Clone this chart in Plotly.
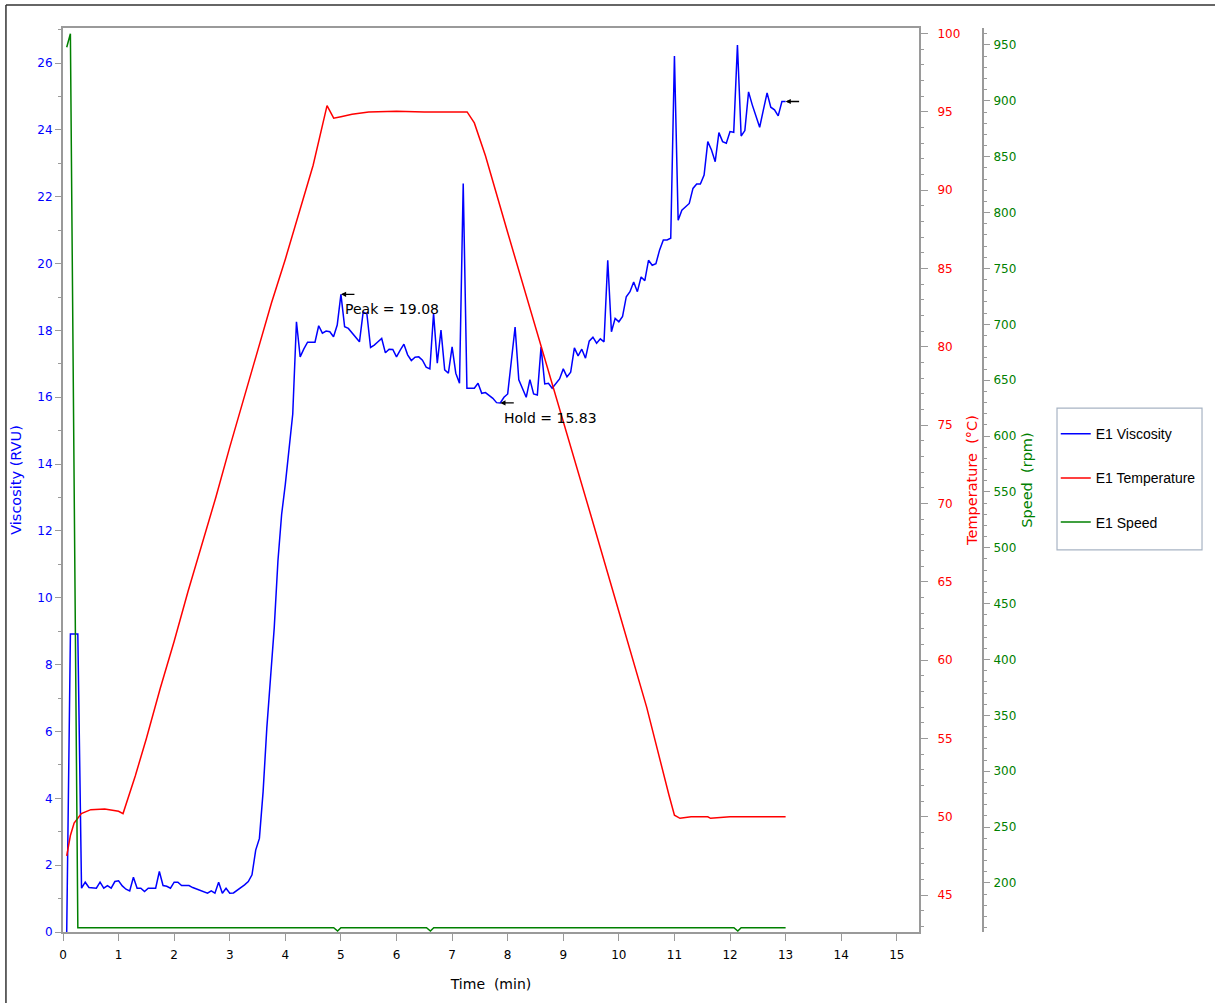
import plotly.graph_objects as go

# Rapid Visco Analyser run E1: samples every 4 s (first sample at 4 s)
viscosity = [
    0.00, 8.92, 8.92, 8.92, 1.31, 1.49, 1.33, 1.31, 1.31, 1.49,
    1.31, 1.39, 1.31, 1.51, 1.53, 1.38, 1.28, 1.23, 1.64, 1.31,
    1.31, 1.21, 1.31, 1.31, 1.31, 1.81, 1.39, 1.37, 1.31, 1.49,
    1.49, 1.39, 1.39, 1.39, 1.33, 1.29, 1.23, 1.20, 1.16, 1.23,
    1.16, 1.49, 1.16, 1.31, 1.16, 1.17, 1.25, 1.31, 1.41, 1.51,
    1.71, 2.45, 2.80, 4.20, 6.10, 7.60, 9.10, 11.10, 12.50, 13.40,
    14.50, 15.50, 18.26, 17.21, 17.45, 17.65, 17.65, 17.65, 18.14, 17.92,
    17.98, 17.96, 17.81, 18.16, 19.08, 18.11, 18.06, 17.93, 17.80, 17.66,
    18.55, 18.50, 17.49, 17.56, 17.66, 17.76, 17.33, 17.44, 17.43, 17.21,
    17.41, 17.59, 17.27, 17.10, 17.20, 17.21, 17.11, 16.90, 16.85, 18.51,
    17.02, 18.01, 16.82, 16.72, 17.51, 16.72, 16.42, 22.40, 16.27, 16.27,
    16.27, 16.42, 16.12, 16.14, 16.05, 15.97, 15.84, 15.83, 16.00, 16.10,
    17.10, 18.10, 16.52, 16.25, 16.00, 16.53, 16.10, 16.07, 17.50, 16.40,
    16.42, 16.27, 16.40, 16.55, 16.85, 16.61, 16.75, 17.48, 17.24, 17.44,
    17.17, 17.68, 17.80, 17.62, 17.75, 17.66, 20.10, 17.96, 18.36, 18.26,
    18.42, 19.01, 19.16, 19.45, 19.16, 19.60, 19.49, 20.10, 19.95, 20.00,
    20.41, 20.71, 20.71, 20.76, 26.21, 21.30, 21.60, 21.70, 21.80, 22.25,
    22.38, 22.38, 22.65, 23.65, 23.40, 23.05, 23.92, 23.65, 23.60, 23.95,
    23.93, 26.54, 23.82, 23.98, 25.14, 24.75, 24.40, 24.08, 24.60, 25.11,
    24.68, 24.60, 24.42, 24.85, 24.85,
]
visc_time = [i * 4 / 60 for i in range(1, len(viscosity) + 1)]

temp_time = [0.067, 0.133, 0.2, 0.33, 0.5, 0.75, 1.0, 1.08, 1.3, 1.5,
             1.75, 2.0, 2.25, 2.5, 2.75, 3.0, 3.25, 3.5, 3.75, 4.0,
             4.25, 4.5, 4.75, 4.87, 5.0, 5.2, 5.5, 6.0, 6.5, 7.0,
             7.27, 7.4, 7.6, 8.0, 8.5, 9.0, 9.5, 10.0, 10.5, 10.9,
             11.0, 11.1, 11.3, 11.6, 11.65, 12.0, 12.5, 13.0]
temperature = [47.5, 48.8, 49.6, 50.2, 50.45, 50.5, 50.35, 50.2, 52.6, 55.0,
               58.2, 61.2, 64.4, 67.4, 70.4, 73.6, 76.7, 79.8, 82.8, 85.6,
               88.6, 91.6, 95.4, 94.6, 94.7, 94.85, 95.0, 95.05, 95.0, 95.0,
               95.0, 94.3, 92.2, 87.3, 81.3, 75.2, 69.2, 63.1, 57.0, 51.4,
               50.1, 49.9, 50.0, 50.0, 49.9, 50.0, 50.0, 50.0]

speed_time = [0.067, 0.133, 0.267, 4.87, 4.94, 5.0, 6.54, 6.61, 6.67,
              12.07, 12.14, 12.2, 13.0]
speed = [948, 960, 160, 160, 157, 160, 160, 157, 160, 160, 157, 160, 160]

peak_time, peak_value = 5.0, 19.08
hold_time, hold_value = visc_time[117], 15.83
final_time, final_value = visc_time[-1], viscosity[-1]

x_ticks = list(range(0, 16))

BLUE = "#0000ff"
RED = "#ff0000"
GREEN = "#008000"
AXIS = "#9a9a9a"
FONT = "DejaVu Sans, Verdana, sans-serif"
NARROW = "Liberation Sans Narrow, Arial Narrow, Liberation Sans, sans-serif"

fig = go.Figure()
fig.add_trace(go.Scatter(x=visc_time, y=viscosity, name="E1 Viscosity",
                         mode="lines", line=dict(color=BLUE, width=1.5),
                         legendgroup="v", yaxis="y"))
fig.add_trace(go.Scatter(x=temp_time, y=temperature, name="E1 Temperature",
                         mode="lines", line=dict(color=RED, width=1.5),
                         legendgroup="t", yaxis="y2"))
fig.add_trace(go.Scatter(x=speed_time, y=speed, name="E1 Speed",
                         mode="lines", line=dict(color=GREEN, width=1.5),
                         legendgroup="s", yaxis="y3"))

common = dict(showgrid=False, zeroline=False, showline=True, linecolor=AXIS,
              linewidth=2, ticks="outside", tickcolor=AXIS)

fig.update_layout(
    width=1215, height=1003,
    margin=dict(l=63, r=20, t=28, b=71, autoexpand=False),
    paper_bgcolor="white", plot_bgcolor="white",
    font=dict(family=FONT, size=12, color="black"),
    xaxis=dict(domain=[0, 0.7562], range=[0, 15.4], tickvals=x_ticks,
               mirror=True, ticklen=7, ticklabelstandoff=4,
               tickfont=dict(size=12, color="black"),
               title=dict(text="Time\u00a0\u00a0(min)",
                          font=dict(size=14, color="black"),
                          standoff=18),
               **common),
    yaxis=dict(range=[0, 27.05], dtick=2, tick0=0, ticklen=6,
               tickfont=dict(size=12, color=BLUE),
               minor=dict(dtick=1, ticks="outside", ticklen=3, tickcolor=AXIS),
               title=dict(text="Viscosity (RVU)",
                          font=dict(size=14.5, color=BLUE), standoff=12),
               **common),
    yaxis2=dict(overlaying="y", side="right", anchor="x",
                range=[42.64, 100.36], dtick=5, tick0=0, ticklen=7,
                ticklabelstandoff=7,
                tickfont=dict(size=12, color=RED),
                minor=dict(dtick=1, ticks="outside", ticklen=3, tickcolor=AXIS),
                title=dict(text="Temperature\u00a0\u00a0(\u00b0C)",
                           font=dict(size=14.5, color=RED), standoff=8),
                **common),
    yaxis3=dict(overlaying="y", side="right", anchor="free", position=0.8127,
                range=[156.1, 965.2], dtick=50, tick0=0, ticklen=6,
                ticklabelstandoff=1,
                tickfont=dict(size=12, color=GREEN),
                minor=dict(dtick=10, ticks="outside", ticklen=3, tickcolor=AXIS),
                title=dict(text="Speed\u00a0\u00a0(rpm)",
                           font=dict(size=14.5, color=GREEN), standoff=6),
                **common),
    legend=dict(x=0.877, y=0.5685, xanchor="left", yanchor="top",
                borderwidth=0, bgcolor="rgba(0,0,0,0)",
                font=dict(family=NARROW, size=14, color="black"),
                tracegroupgap=23, itemwidth=30),
    showlegend=True,
)

# legend frame
fig.add_shape(type="rect", xref="paper", yref="paper",
              x0=0.8781, x1=1.0062, y0=0.4226, y1=0.5796,
              line=dict(color="#a8b4c4", width=1.2), fillcolor="rgba(0,0,0,0)")

# outer frame of the chart panel (top and left edges)
fig.add_shape(type="line", xref="paper", yref="paper",
              x0=-0.0504, x1=1.02, y0=1.0254, y1=1.0254,
              line=dict(color="#333333", width=1.5))
fig.add_shape(type="line", xref="paper", yref="paper",
              x0=-0.0504, x1=-0.0504, y0=-0.08, y1=1.0254,
              line=dict(color="#333333", width=1.5))

# markers for peak, hold (trough) and final viscosity
for t, v in [(peak_time, peak_value), (hold_time, hold_value),
             (final_time, final_value)]:
    fig.add_annotation(x=t, y=v, xref="x", yref="y", text="", showarrow=True,
                       ax=15, ay=0, arrowhead=2, arrowsize=0.8,
                       arrowwidth=1.3, arrowcolor="black")

fig.add_annotation(x=peak_time, y=peak_value, xref="x", yref="y",
                   text=f"Peak = {peak_value:.2f}", showarrow=False,
                   xanchor="left", yanchor="middle", xshift=2, yshift=-15,
                   font=dict(family=FONT, size=14, color="black"))
fig.add_annotation(x=hold_time, y=hold_value, xref="x", yref="y",
                   text=f"Hold = {hold_value:.2f}", showarrow=False,
                   xanchor="left", yanchor="middle", xshift=2, yshift=-15,
                   font=dict(family=FONT, size=14, color="black"))

fig.write_html("out.html")
